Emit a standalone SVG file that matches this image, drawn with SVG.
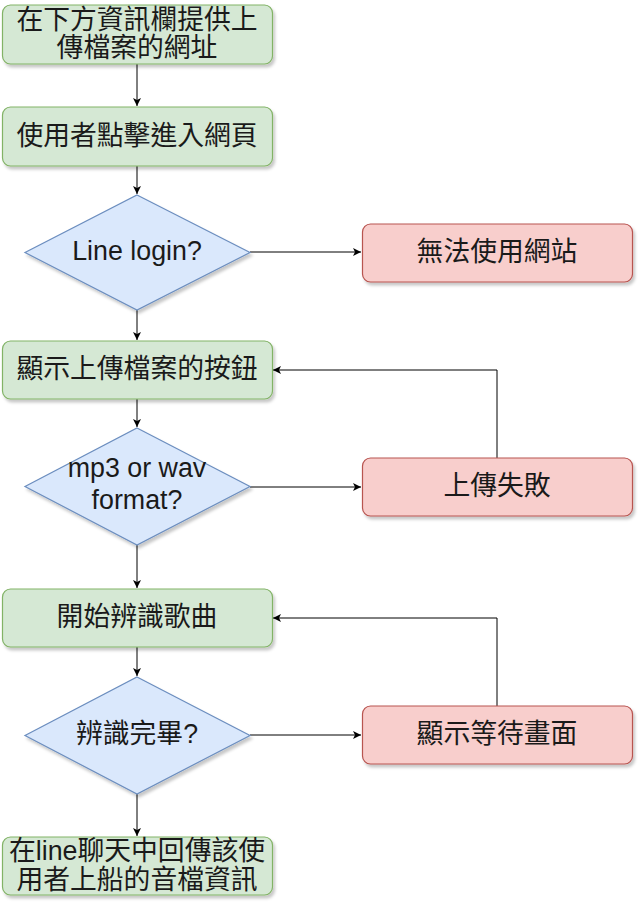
<svg xmlns="http://www.w3.org/2000/svg" width="641" height="907" viewBox="0 0 641 907">
<style>
.g{fill:#d5e8d4;stroke:#82b366;stroke-width:1.2}
.b{fill:#dae8fc;stroke:#6c8ebf;stroke-width:1.2}
.r{fill:#f8cecc;stroke:#b85450;stroke-width:1.2}
.sh{filter:url(#ds)}
text{font-family:"Liberation Sans","Noto Sans CJK TC",sans-serif;font-size:26.8px;fill:#1a1a1a;text-anchor:middle;dominant-baseline:central}
.c{stroke:#000;stroke-width:1;fill:none;marker-end:url(#ah)}
</style>
<defs>
<filter id="ds" x="-10%" y="-10%" width="130%" height="140%">
<feDropShadow dx="2" dy="3" stdDeviation="1.5" flood-color="#000" flood-opacity="0.22"/>
</filter>
<marker id="ah" markerWidth="10" markerHeight="10" refX="8" refY="4" orient="auto" markerUnits="userSpaceOnUse">
<path d="M0,0 L8,4 L0,8 L2,4 Z" fill="#000"/>
</marker>
</defs>
<g id="connectors">
<path class="c" d="M137,64 V106"/>
<path class="c" d="M137,166 V194"/>
<path class="c" d="M250,252 H361"/>
<path class="c" d="M137,310 V340"/>
<path class="c" d="M137,399 V427"/>
<path class="c" d="M250,487 H361"/>
<path class="c" d="M497,458 V370 H273"/>
<path class="c" d="M137,545 V588"/>
<path class="c" d="M137,647 V676"/>
<path class="c" d="M250,735 H361"/>
<path class="c" d="M497,706 V618 H273"/>
<path class="c" d="M137,794 V836"/>
</g>
<g id="n1"><rect class="g sh" x="2.5" y="5" width="270" height="59" rx="8"/><text x="137" y="20">在下方資訊欄提供上</text><text x="137" y="48">傳檔案的網址</text></g>
<g id="n2"><rect class="g sh" x="2.5" y="107" width="270" height="59" rx="8"/><text x="137" y="136">使用者點擊進入網頁</text></g>
<g id="n3"><path class="b sh" d="M137,195 L250,252.5 L137,310 L25,252.5 Z"/><text x="137" y="251">Line login?</text></g>
<g id="n4"><rect class="r sh" x="362.5" y="224" width="270" height="58" rx="8"/><text x="497" y="252">無法使用網站</text></g>
<g id="n5"><rect class="g sh" x="2.5" y="341" width="270" height="58" rx="8"/><text x="137" y="369">顯示上傳檔案的按鈕</text></g>
<g id="n6"><path class="b sh" d="M137,428 L250,486.5 L137,545 L25,486.5 Z"/><text x="137" y="468">mp3 or wav</text><text x="137" y="500">format?</text></g>
<g id="n7"><rect class="r sh" x="362.5" y="458" width="270" height="58" rx="8"/><text x="497" y="486">上傳失敗</text></g>
<g id="n8"><rect class="g sh" x="2.5" y="589" width="270" height="58" rx="8"/><text x="137" y="617">開始辨識歌曲</text></g>
<g id="n9"><path class="b sh" d="M137,677 L250,735.5 L137,794 L25,735.5 Z"/><text x="137" y="734">辨識完畢?</text></g>
<g id="n10"><rect class="r sh" x="362.5" y="706" width="270" height="58" rx="8"/><text x="497" y="734">顯示等待畫面</text></g>
<g id="n11"><rect class="g sh" x="2.5" y="837" width="270" height="58" rx="8"/><text x="137" y="851">在line聊天中回傳該使</text><text x="137" y="880">用者上船的音檔資訊</text></g>
</svg>
